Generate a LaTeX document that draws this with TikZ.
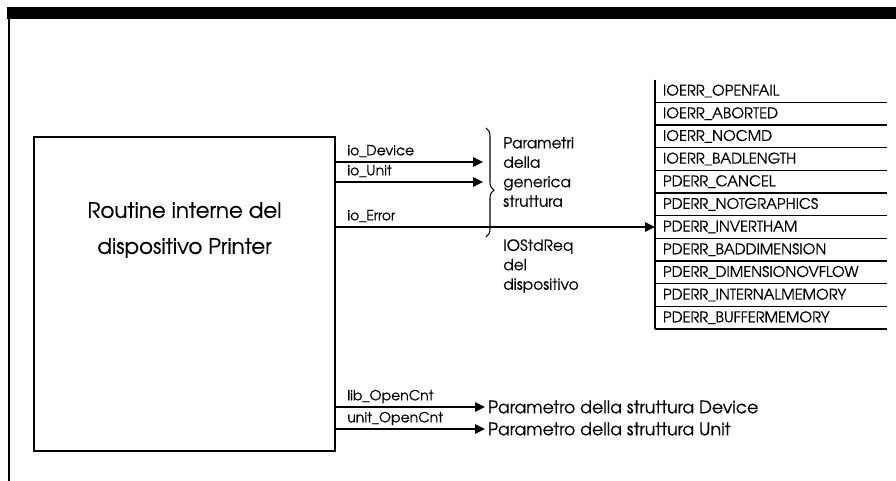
\documentclass[tikz,border=0pt]{standalone}
\usepackage{fontspec}
\setmainfont[FakeBold=0.4]{TeX Gyre Adventor}
\usetikzlibrary{arrows.meta, positioning, decorations.pathreplacing}

\begin{document}
\begin{tikzpicture}[
        x=0.75pt, y=-0.75pt,
        box/.style={rectangle, draw, line width=2.2pt, minimum width=225.75pt, minimum height=235.5pt},
        errrow/.style={rectangle, anchor=west, outer sep=0pt, inner xsep=6pt, inner ysep=0pt, text width=162pt, align=left, minimum height=17pt, font=\fontsize{11}{12}\selectfont},
        lbl/.style={anchor=base west, inner sep=0pt, xshift=7.5pt, yshift=5pt, font=\fontsize{10.5}{12}\selectfont},
        partext/.style={anchor=west, align=left, inner sep=2.25pt, font=\fontsize{11.5}{14.6}\selectfont},
        dest/.style={anchor=west, inner sep=2pt, font=\fontsize{13}{15}\selectfont},
        arr/.style={-{Triangle[length=7.5pt, width=7pt]}, line width=1.3pt},
        rule/.style={line width=1pt},
        node distance=0pt
        ]
        \useasboundingbox (0,0) rectangle (896,481);
        % frame
        \fill (7,7) rectangle (896,19);
        \draw[line width=1.5pt] (8.5,19) -- (8.5,481);

        \node[box] (routine) at (184.5,294) {};
        \node[align=center, font=\fontsize{16}{27}\selectfont] (routinetxt) at (184.5,230) {Routine interne del\\dispositivo Printer};

        % error codes
        \node[errrow] (openfail) at (655,91) {IOERR\_OPENFAIL};
        \node[errrow, below=of openfail] (aborted) {IOERR\_ABORTED};
        \node[errrow, below=of aborted] (nocmd) {IOERR\_NOCMD};
        \node[errrow, below=of nocmd] (badlength) {IOERR\_BADLENGTH};
        \node[errrow, below=of badlength] (cancel) {PDERR\_CANCEL};
        \node[errrow, below=of cancel] (notgraphics) {PDERR\_NOTGRAPHICS};
        \node[errrow, below=of notgraphics] (invertham) {PDERR\_INVERTHAM};
        \node[errrow, below=of invertham] (baddim) {PDERR\_BADDIMENSION};
        \node[errrow, below=of baddim] (dimovflow) {PDERR\_DIMENSIONOVFLOW};
        \node[errrow, below=of dimovflow] (intmem) {PDERR\_INTERNALMEMORY};
        \node[errrow, below=of intmem] (bufmem) {PDERR\_BUFFERMEMORY};
        \draw[rule] (openfail.north west) -- (bufmem.south west);
        \foreach \r in {openfail, aborted, nocmd, badlength, cancel, notgraphics, invertham, baddim, dimovflow, intmem, bufmem}
            \draw[rule] (\r.south west) -- (\r.south east);

        % IOStdReq fields
        \coordinate (devEnd) at (483,162);
        \coordinate (unitEnd) at (483,182);
        \coordinate (braceTop) at (486,128);
        \coordinate (braceBot) at (486,237);
        \draw[arr] (routine.east |- devEnd) -- node[lbl, at start] {io\_Device} (devEnd);
        \draw[arr] (routine.east |- unitEnd) -- node[lbl, at start] {io\_Unit} (unitEnd);
        \draw[arr] (routine.east |- invertham.west) -- node[lbl, at start] {io\_Error} (invertham.west);
        \draw[decorate, decoration={brace, amplitude=6pt, aspect=0.57}, line width=0.8pt] (braceTop) -- (braceBot);
        \node[partext] (parametri) at (500,172) {Parametri\\della\\generica\\struttura};
        \node[partext] (iostdreq) at (500,266) {IOStdReq\\del\\dispositivo};

        % Device / Unit fields
        \node[dest] (devpar) at (485,407) {Parametro della struttura Device};
        \node[dest] (unitpar) at (485,429) {Parametro della struttura Unit};
        \draw[arr] (routine.east |- devpar.west) -- node[lbl, at start] {lib\_OpenCnt} (devpar.west);
        \draw[arr] (routine.east |- unitpar.west) -- node[lbl, at start] {unit\_OpenCnt} (unitpar.west);
    \end{tikzpicture}
\end{document}
